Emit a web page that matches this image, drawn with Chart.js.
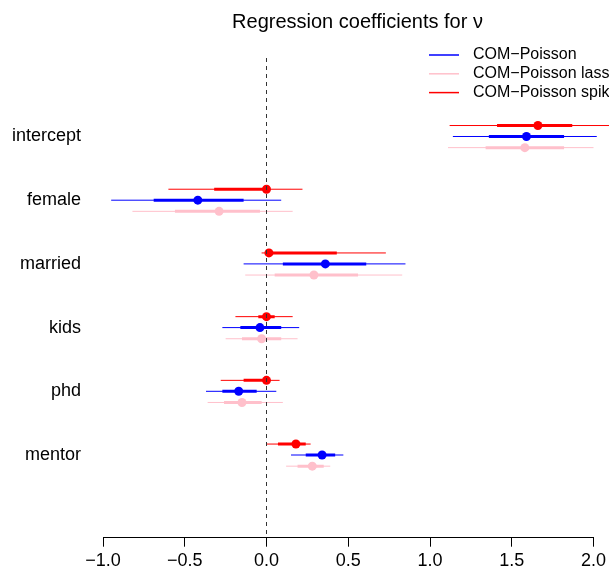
<!DOCTYPE html>
<html>
<head>
<meta charset="utf-8">
<script src="https://cdn.jsdelivr.net/npm/chart.js@4"></script>
<style>
  html, body { margin: 0; padding: 0; background: #fff; }
  #wrap { width: 609px; height: 575px; overflow: hidden; position: relative; }
  #wrap canvas { position: absolute; left: 0; top: 0; }
</style>
</head>
<body>
<div id="wrap"><canvas id="coefChart" width="715" height="575"></canvas></div>
<script>
// coefficient names, top to bottom
const rows = ['intercept', 'female', 'married', 'kids', 'phd', 'mentor'];
const xTicks = [-1.0, -0.5, 0.0, 0.5, 1.0, 1.5, 2.0];

// COM-Poisson (blue)
const cmpEst  = [1.59, -0.42, 0.36, -0.04, -0.17, 0.34];
const cmpLo95 = [1.14, -0.95, -0.14, -0.27, -0.37, 0.15];
const cmpHi95 = [2.02, 0.09, 0.85, 0.20, 0.06, 0.47];
const cmpLo50 = [1.36, -0.69, 0.10, -0.16, -0.27, 0.24];
const cmpHi50 = [1.82, -0.14, 0.61, 0.09, -0.06, 0.42];

// COM-Poisson lasso (pink)
const lassoEst  = [1.58, -0.29, 0.29, -0.03, -0.15, 0.28];
const lassoLo95 = [1.11, -0.82, -0.13, -0.25, -0.36, 0.12];
const lassoHi95 = [2.00, 0.16, 0.83, 0.19, 0.10, 0.39];
const lassoLo50 = [1.34, -0.56, 0.05, -0.15, -0.26, 0.19];
const lassoHi50 = [1.82, -0.04, 0.56, 0.09, -0.03, 0.35];

// COM-Poisson spike and slab (red)
const spikeEst  = [1.66, 0.00, 0.015, 0.00, 0.00, 0.18];
const spikeLo95 = [1.12, -0.60, -0.03, -0.19, -0.28, 0.00];
const spikeHi95 = [2.25, 0.22, 0.73, 0.16, 0.08, 0.27];
const spikeLo50 = [1.41, -0.32, 0.00, -0.05, -0.14, 0.07];
const spikeHi50 = [1.87, 0.00, 0.43, 0.05, 0.00, 0.24];

const FONT = '"Liberation Sans", Arial, Helvetica, sans-serif';
const Y_MIN = -1.232, Y_MAX = 6.298;

// vertical shift of each model inside a row
const series = [
  { label: 'COM\u2212Poisson', color: '#0000ff', shift: 0, est: cmpEst, lo95: cmpLo95, hi95: cmpHi95, lo50: cmpLo50, hi50: cmpHi50 },
  { label: 'COM\u2212Poisson lasso', color: '#ffc0cb', shift: 0.175, est: lassoEst, lo95: lassoLo95, hi95: lassoHi95, lo50: lassoLo50, hi50: lassoHi50 },
  { label: 'COM\u2212Poisson spike-and-slab', color: '#ff0000', shift: -0.172, est: spikeEst, lo95: spikeLo95, hi95: spikeHi95, lo50: spikeLo50, hi50: spikeHi50 }
];

function segments(lo, hi, shift) {
  const out = [];
  rows.forEach((r, i) => {
    out.push({ x: lo[i], y: i + shift }, { x: hi[i], y: i + shift }, { x: null, y: null });
  });
  return out;
}

const datasets = [{
  label: 'zero',
  data: [{ x: 0, y: Y_MIN }, { x: 0, y: Y_MAX }],
  showLine: true,
  borderColor: '#333',
  borderWidth: 1,
  borderDash: [4, 4],
  pointRadius: 0
}];

series.forEach(s => {
  datasets.push({
    label: s.label + ' est',
    data: s.est.map((v, i) => ({ x: v, y: i + s.shift })),
    showLine: false,
    pointRadius: 4.5,
    pointBackgroundColor: s.color,
    pointBorderWidth: 0,
    clip: false
  });
  datasets.push({
    label: s.label + ' 50',
    data: segments(s.lo50, s.hi50, s.shift),
    showLine: true,
    spanGaps: false,
    borderColor: s.color,
    borderWidth: 3,
    pointRadius: 0,
    clip: false
  });
  datasets.push({
    label: s.label + ' 95',
    data: segments(s.lo95, s.hi95, s.shift),
    showLine: true,
    spanGaps: false,
    borderColor: s.color,
    borderWidth: 1,
    pointRadius: 0,
    clip: false
  });
});

const sideLegend = {
  id: 'sideLegend',
  afterDraw(chart) {
    const ctx = chart.ctx;
    ctx.save();
    ctx.setLineDash([]);
    ctx.font = '16px ' + FONT;
    ctx.textBaseline = 'middle';
    series.forEach((s, i) => {
      const y = 55 + i * 18.8;
      ctx.strokeStyle = s.color;
      ctx.lineWidth = 1.5;
      ctx.beginPath();
      ctx.moveTo(429, y);
      ctx.lineTo(459, y);
      ctx.stroke();
      ctx.fillStyle = '#000';
      ctx.fillText(s.label, 473, y);
    });
    ctx.restore();
  }
};

new Chart(document.getElementById('coefChart').getContext('2d'), {
  type: 'scatter',
  data: { datasets: datasets },
  plugins: [sideLegend],
  options: {
    responsive: false,
    animation: false,
    layout: { padding: 0 },
    plugins: {
      legend: { display: false },
      tooltip: { enabled: false },
      title: {
        display: true,
        text: 'Regression coefficients for \u03bd',
        color: '#000',
        font: { family: FONT, size: 20, weight: 'normal', lineHeight: 1.2 },
        padding: { top: 10, bottom: 24 }
      }
    },
    scales: {
      x: {
        type: 'linear',
        min: -1,
        max: 2,
        afterBuildTicks: (scale) => { scale.ticks = xTicks.map(v => ({ value: v })); },
        afterFit: (scale) => { scale.height = 37.3; },
        grid: { drawOnChartArea: false, drawTicks: true, tickLength: 9, color: '#000', lineWidth: 1 },
        border: { display: true, color: '#000', width: 1 },
        ticks: {
          color: '#000',
          padding: 4,
          maxRotation: 0,
          font: { family: FONT, size: 18 },
          callback: (v) => Number(v).toFixed(1).replace('-', '\u2212')
        }
      },
      y: {
        type: 'linear',
        reverse: true,
        min: Y_MIN,
        max: Y_MAX,
        afterBuildTicks: (scale) => { scale.ticks = rows.map((r, i) => ({ value: i })); },
        afterFit: (scale) => { scale.width = 103; },
        grid: { display: false },
        border: { display: false },
        ticks: {
          color: '#000',
          padding: 14,
          font: { family: FONT, size: 18 },
          callback: (v) => rows[v]
        }
      },
      // empty right margin so the title centres over the plot like the original
      yRight: {
        type: 'linear',
        position: 'right',
        display: true,
        afterFit: (scale) => { scale.width = 121.5; },
        grid: { display: false },
        border: { display: false },
        ticks: { display: false }
      }
    }
  }
});
</script>
</body>
</html>
